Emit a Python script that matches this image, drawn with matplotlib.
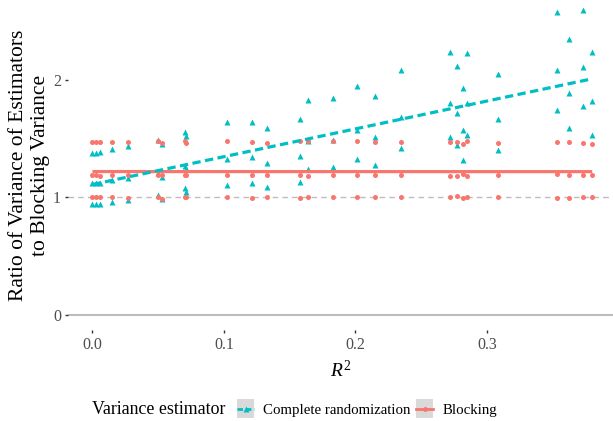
import numpy as np
import matplotlib
matplotlib.use("Agg")
import matplotlib.pyplot as plt
from matplotlib.lines import Line2D
from matplotlib.patches import Rectangle
from matplotlib.legend_handler import HandlerLine2D

plt.rcParams['font.family'] = ['Liberation Serif', 'DejaVu Serif']
plt.rcParams['mathtext.fontset'] = 'custom'
plt.rcParams['mathtext.rm'] = 'Liberation Serif'
plt.rcParams['mathtext.it'] = 'Liberation Serif:italic'

# R^2 of each simulated design
r2 = [0.000, 0.003, 0.006, 0.015, 0.027, 0.050, 0.053, 0.070, 0.071,
      0.102, 0.1215, 0.133, 0.158, 0.164, 0.183, 0.201, 0.2145, 0.2347,
      0.272, 0.277, 0.282, 0.285, 0.308, 0.353, 0.362, 0.373, 0.380]

# blocking estimator (three per design)
block_hi = [1.47, 1.47, 1.47, 1.472, 1.472, 1.478, 1.467, 1.478, 1.467,
            1.481, 1.47, 1.464, 1.478, 1.478, 1.478, 1.478, 1.47, 1.475,
            1.472, 1.472, 1.458, 1.478, 1.461, 1.472, 1.472, 1.461, 1.458]
block_mid = [1.19, 1.19, 1.186, 1.194, 1.188, 1.194, 1.188, 1.191, 1.191,
             1.189, 1.189, 1.189, 1.189, 1.183, 1.189, 1.189, 1.194, 1.191,
             1.186, 1.186, 1.2, 1.183, 1.19, 1.197, 1.19, 1.19, 1.19]
block_lo = [1.0, 1.0, 1.0, 1.0, 0.993, 1.004, 0.99, 1.0, 1.0,
            1.0, 0.996, 1.0, 0.996, 1.0, 1.0, 1.0, 1.0, 1.0,
            1.0, 1.01, 0.998, 1.007, 1.0, 0.995, 0.995, 1.0, 1.008]

# complete randomization estimator (three per design)
cr_hi = [1.376, 1.38, 1.385, 1.413, 1.441, 1.492, 1.453, 1.555, 1.523,
         1.64, 1.643, 1.589, 1.668, 1.827, 1.849, 1.949, 1.866, 2.085,
         2.238, 2.119, 1.934, 2.232, 2.054, 2.581, 2.349, 2.596, 2.238]
cr_mid = [1.12, 1.126, 1.126, 1.146, 1.163, 1.211, 1.177, 1.268, 1.240,
          1.325, 1.342, 1.294, 1.356, 1.478, 1.49, 1.574, 1.517, 1.688,
          1.807, 1.716, 1.574, 1.804, 1.668, 2.085, 1.889, 2.111, 1.819]
cr_lo = [0.942, 0.942, 0.945, 0.962, 0.981, 1.019, 0.985, 1.077, 1.047,
         1.109, 1.121, 1.087, 1.132, 1.243, 1.257, 1.325, 1.274, 1.418,
         1.517, 1.447, 1.316, 1.535, 1.407, 1.747, 1.589, 1.779, 1.535]

cyan = '#00BFC4'
red = '#F8766D'

x = np.array(r2 * 3)
y_cr = np.array(cr_hi + cr_mid + cr_lo)
y_bl = np.array(block_hi + block_mid + block_lo)

W, H = 613, 421
fig = plt.figure(figsize=(W / 100, H / 100), dpi=100)
ax = fig.add_axes([68 / W, (H - 330) / H, (W - 68) / W, 330 / H])

ax.axhline(0, color='#bdbdbd', lw=1.5, zorder=1)
ax.axhline(1, color='#bdbdbd', lw=1.0, ls=(0, (4, 3)), zorder=1)

ax.plot(x, y_cr, '^', color=cyan, ms=4.6, mec='none', zorder=2)
ax.plot(x, y_bl, 'o', color=red, ms=3.6, mec='none', zorder=3)

# straight-line fits, as in the original
xs = np.array([min(r2), max(r2)])
b_cr = np.polyfit(x, y_cr, 1)
b_bl = np.polyfit(x, y_bl, 1)
ax.plot(xs, np.polyval(b_bl, xs), color=red, lw=2.3, zorder=4, solid_capstyle='butt')
ax.plot(xs, np.polyval(b_cr, xs), color=cyan, lw=2.3, ls=(0, (2.6, 1.4)), zorder=4)

ax.set_xlim(-0.0186, (W - 92.5) / 1315)
ax.set_ylim(-0.128, 315 / 117.5)
ax.set_xticks([0.0, 0.1, 0.2, 0.3])
ax.set_xticklabels(['0.0', '0.1', '0.2', '0.3'])
ax.set_yticks([0, 1, 2])
ax.tick_params(axis='both', length=2.5, width=1, color='#333333',
               labelcolor='#4d4d4d', labelsize=11.5, pad=2.5)
for s in ax.spines.values():
    s.set_visible(False)

ax.set_xlabel('$R^2$', fontsize=14, labelpad=5)
ax.set_ylabel('Ratio of Variance of Estimators\nto Blocking Variance',
              fontsize=15.5, linespacing=1.25, labelpad=2)


class KeyHandler(HandlerLine2D):
    # grey key background like ggplot's legend keys
    def create_artists(self, legend, orig_handle, xdescent, ydescent,
                       width, height, fontsize, trans):
        arts = super().create_artists(legend, orig_handle, xdescent, ydescent,
                                      width, height, fontsize, trans)
        bg = Rectangle((-xdescent, -ydescent - 3), width, height + 6,
                       facecolor='#d9d9d9', edgecolor='none', transform=trans)
        return [bg] + list(arts)


h_cr = Line2D([], [], color=cyan, lw=2, ls=(0, (2, 1)), marker='^', ms=4.5, mec='none')
h_bl = Line2D([], [], color=red, lw=2, marker='o', ms=3.5, mec='none')
fig.text(92 / W, 1 - 410 / H, 'Variance estimator', fontsize=12.9, va='center', ha='left')
leg = fig.legend([h_cr, h_bl], ['Complete randomization', 'Blocking'],
                 loc='center left', bbox_to_anchor=(237 / W, 1 - 410 / H),
                 ncol=2, frameon=False, fontsize=10.7, handlelength=1.15,
                 handletextpad=0.6, columnspacing=0.4, borderpad=0, borderaxespad=0,
                 handler_map={h_cr: KeyHandler(numpoints=1), h_bl: KeyHandler(numpoints=1)})

fig.savefig('out.png', dpi=100)
